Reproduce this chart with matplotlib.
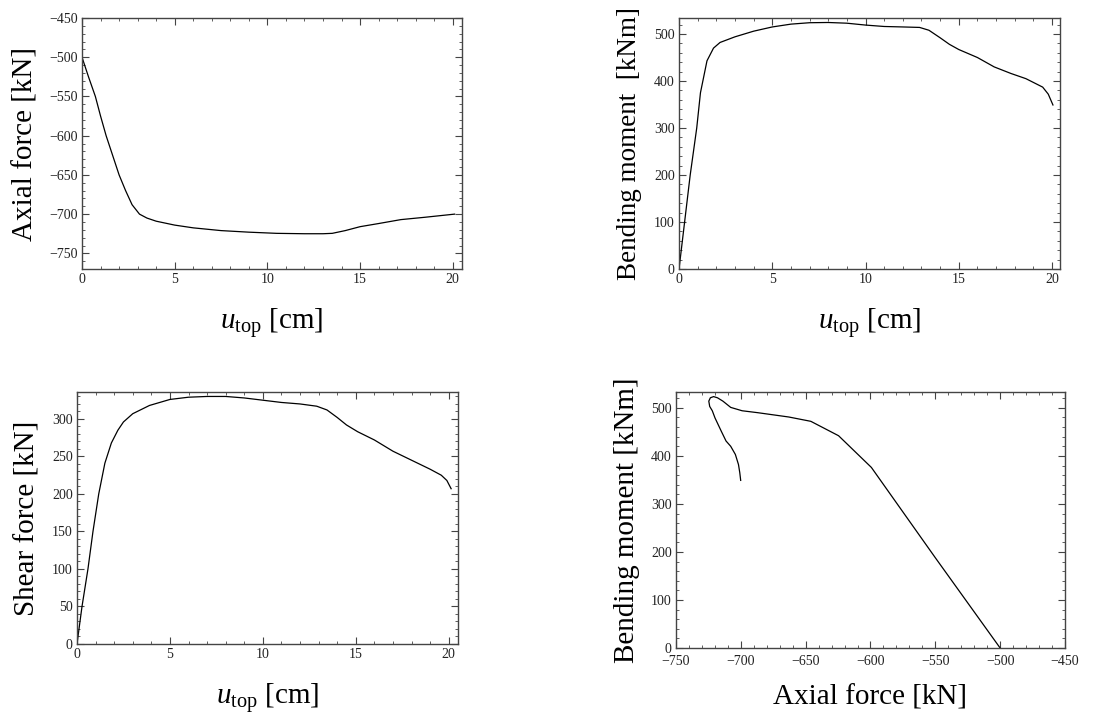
import numpy as np
import matplotlib
matplotlib.use('Agg')
import matplotlib.pyplot as plt
from matplotlib.ticker import MultipleLocator

plt.rcParams['font.family'] = ['Liberation Serif', 'DejaVu Serif']
plt.rcParams['mathtext.fontset'] = 'custom'
plt.rcParams['mathtext.rm'] = 'Liberation Serif'
plt.rcParams['mathtext.it'] = 'Liberation Serif:italic'

#Axial force vs top displacement
u_axial = [0, 0.35, 0.72, 1.0, 1.3, 1.65, 2.0, 2.35, 2.7, 3.1, 3.5, 4.0, 5.0,
           6.0, 7.5, 9.0, 10.5, 12.0, 13.0, 13.5, 14.2, 15.0, 16.0, 17.2,
           18.5, 20.1]
axial = [-500, -525, -550, -575, -600, -625, -650, -670, -688, -700, -705,
         -709, -714, -717.5, -721, -723, -724.5, -725, -725, -724.5, -721,
         -716, -712, -707, -704, -700]

#Bending moment vs top displacement
u_moment = [0, 0.3, 0.6, 0.95, 1.15, 1.5, 1.85, 2.2, 3.0, 4.0, 5.0, 6.0, 7.0,
            8.0, 9.0, 10.0, 11.0, 12.0, 12.9, 13.4, 14.0, 14.5, 15.0, 16.0,
            16.9, 17.8, 18.6, 19.1, 19.5, 19.8, 20.05]
moment = [0, 100, 200, 300, 375, 443, 470, 482, 494, 506, 515, 521, 524,
          524.5, 523, 519, 516, 515, 514, 508, 492, 478, 467, 450, 430, 416,
          405, 395, 387, 372, 349]

#Shear force vs top displacement
u_shear = [0, 0.27, 0.59, 0.86, 1.17, 1.5, 1.85, 2.2, 2.5, 3.0, 3.9, 5.0,
           6.0, 7.0, 8.0, 9.0, 10.0, 11.0, 12.0, 12.9, 13.45, 14.0, 14.5,
           15.1, 16.0, 17.0, 18.0, 19.0, 19.6, 19.9, 20.13]
shear = [0, 50, 100, 150, 200, 241, 268, 285, 296, 307, 318, 326, 329, 330,
         330, 328, 325, 322, 320, 317, 312, 302, 292, 283, 272, 257, 245,
         233, 225, 218, 207]

#Interaction path (axial force vs bending moment)
nm_axial = [-500, -550, -599.3, -624.6, -646, -663, -687, -699, -707.8,
            -713.8, -718, -721, -723.5, -724.7, -724, -722, -719.9, -715,
            -711.4, -707.8, -704.2, -701.8, -700.8, -700.1]
nm_moment = [0, 188, 376, 442, 472, 481, 490, 494, 501, 514, 521, 523.5, 521,
             514, 503, 494, 479, 451, 431, 420, 403, 382, 365, 349]

xlabel_u = r'$u_{\rm top}$ [cm]'

def styleAxes(ax, xmaj, xmin, ymaj, ymin):
    '''
    Mathematica-like frame: inward ticks on all four sides
    '''
    ax.xaxis.set_major_locator(MultipleLocator(xmaj))
    ax.xaxis.set_minor_locator(MultipleLocator(xmin))
    ax.yaxis.set_major_locator(MultipleLocator(ymaj))
    ax.yaxis.set_minor_locator(MultipleLocator(ymin))
    ax.tick_params(which='both', direction='in', top=True, right=True,
                   color='#444444', labelcolor='#222222', labelsize=10,
                   pad=3)
    ax.tick_params(which='major', length=5, width=0.8)
    ax.tick_params(which='minor', length=2.5, width=0.6)
    for s in ax.spines.values():
        s.set_color('#444444')
        s.set_linewidth(1.0)

fig = plt.figure(figsize=(11.19, 7.18), dpi=100)

#Top left
ax1 = fig.add_axes([0.0733, 0.6253, 0.3396, 0.3496])
ax1.plot(u_axial, axial, color='black', lw=0.9)
ax1.set_xlim(0, 20.5)
ax1.set_ylim(-770, -450)
styleAxes(ax1, 5, 1, 50, 10)
ax1.set_xlabel(xlabel_u, fontsize=21, labelpad=14)
ax1.set_ylabel('Axial force [kN]', fontsize=21, labelpad=8)

#Top right
ax2 = fig.add_axes([0.6068, 0.6253, 0.3405, 0.3496])
ax2.plot(u_moment, moment, color='black', lw=0.9)
ax2.set_xlim(0, 20.43)
ax2.set_ylim(0, 534)
styleAxes(ax2, 5, 1, 100, 20)
ax2.set_xlabel(xlabel_u, fontsize=21, labelpad=14)
ax2.set_ylabel('Bending moment  [kNm]', fontsize=19.5, labelpad=9)

#Bottom left
ax3 = fig.add_axes([0.0688, 0.1031, 0.3405, 0.351])
ax3.plot(u_shear, shear, color='black', lw=0.9)
ax3.set_xlim(0, 20.5)
ax3.set_ylim(0, 336)
styleAxes(ax3, 5, 1, 50, 10)
ax3.set_xlabel(xlabel_u, fontsize=21, labelpad=14)
ax3.set_ylabel('Shear force [kN]', fontsize=21, labelpad=8)

#Bottom right
ax4 = fig.add_axes([0.6041, 0.0975, 0.3476, 0.3565])
ax4.plot(nm_axial, nm_moment, color='black', lw=0.9)
ax4.set_xlim(-750, -450)
ax4.set_ylim(0, 533)
styleAxes(ax4, 50, 10, 100, 20)
ax4.tick_params(axis='x', pad=5)
ax4.set_xlabel('Axial force [kN]', fontsize=21, labelpad=12)
ax4.set_ylabel('Bending moment [kNm]', fontsize=21, labelpad=8)

fig.savefig('out.png', dpi=100)
